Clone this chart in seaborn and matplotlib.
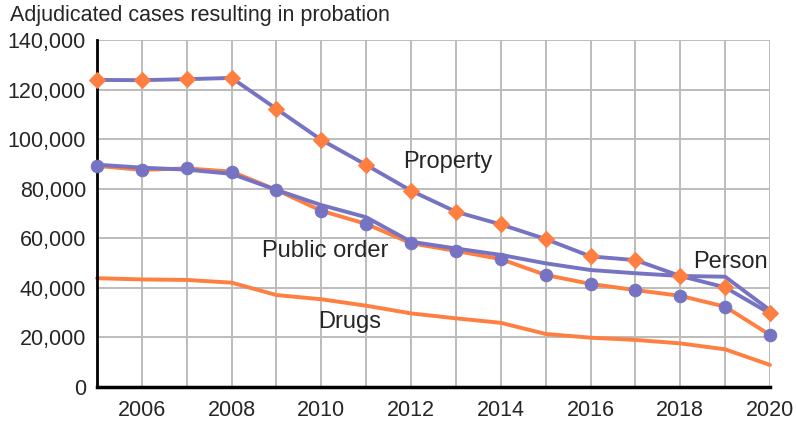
import pandas as pd
import numpy as np
import matplotlib
matplotlib.use("Agg")
import matplotlib.pyplot as plt
import seaborn as sns

# values
years = list(range(2005, 2021))
property_cases = [123900, 123800, 124200, 124700, 112200, 99700, 89600, 79200,
                  70700, 65600, 59700, 52700, 51200, 44800, 40200, 29700]
person_cases = [89700, 88500, 87700, 86000, 79500, 73400, 68500, 58600,
                55900, 53300, 49900, 47200, 45900, 44800, 44500, 31000]
public_order_cases = [89200, 87600, 88200, 86900, 79500, 71100, 65800, 58000,
                      54900, 51600, 45200, 41600, 39100, 36800, 32400, 21000]
drugs_cases = [43900, 43400, 43200, 42100, 37100, 35400, 32800, 29700,
               27700, 25900, 21400, 19900, 19000, 17600, 15200, 8900]

y_ticks = [0, 20000, 40000, 60000, 80000, 100000, 120000, 140000]
x_tick_labels = [str(y) if y % 2 == 0 else "" for y in years]

purple = "#7773c3"
orange = "#fe7f40"

sns.set_style("white")
plt.rcParams["font.family"] = ["Liberation Sans", "DejaVu Sans"]

df = pd.DataFrame({"year": years, "Property": property_cases, "Person": person_cases,
                   "Public order": public_order_cases, "Drugs": drugs_cases})

fig = plt.figure(figsize=(7.96, 4.23), dpi=100)
ax = fig.add_axes([0.1219, 0.0851, 0.8454, 0.8203])

sns.lineplot(data=df, x="year", y="Drugs", color=orange, linewidth=2.8, ax=ax, clip_on=False)
sns.lineplot(data=df, x="year", y="Public order", color=orange, linewidth=2.8, ax=ax,
             marker="o", markersize=9, markerfacecolor=purple, markeredgecolor=purple,
             clip_on=False, zorder=3)
sns.lineplot(data=df, x="year", y="Person", color=purple, linewidth=2.8, ax=ax, clip_on=False, zorder=3)
sns.lineplot(data=df, x="year", y="Property", color=purple, linewidth=2.8, ax=ax,
             marker="D", markersize=8, markerfacecolor=orange, markeredgecolor=orange,
             clip_on=False, zorder=4)

ax.set_xlim(2005, 2020)
ax.set_ylim(0, 140000)
ax.set_xticks(years)
ax.set_xticklabels(x_tick_labels, fontsize=15.5)
ax.set_yticks(y_ticks)
ax.set_yticklabels([f"{v:,}" for v in y_ticks], fontsize=15.5)
ax.set_xlabel("")
ax.set_ylabel("")
ax.grid(True, color="#bcbcbc", linewidth=1.4)
ax.set_axisbelow(True)

for side in ["top", "right"]:
    ax.spines[side].set_visible(False)
ax.spines["left"].set_color("black")
ax.spines["left"].set_linewidth(2)
ax.spines["bottom"].set_color("black")
ax.spines["bottom"].set_linewidth(2.5)
ax.tick_params(axis="both", direction="out", length=4, width=1.5, color="black", pad=4)
ax.tick_params(axis="x", pad=5)

ax.text(2011.82, 90800, "Property", fontsize=17, ha="left", va="center")
ax.text(2008.68, 54900, "Public order", fontsize=17, ha="left", va="center")
ax.text(2018.28, 50400, "Person", fontsize=17, ha="left", va="center")
ax.text(2009.93, 26200, "Drugs", fontsize=17, ha="left", va="center")

fig.text(0.012, 0.963, "Adjudicated cases resulting in probation", fontsize=15.5, ha="left", va="center")

fig.savefig("out.png", dpi=100)
